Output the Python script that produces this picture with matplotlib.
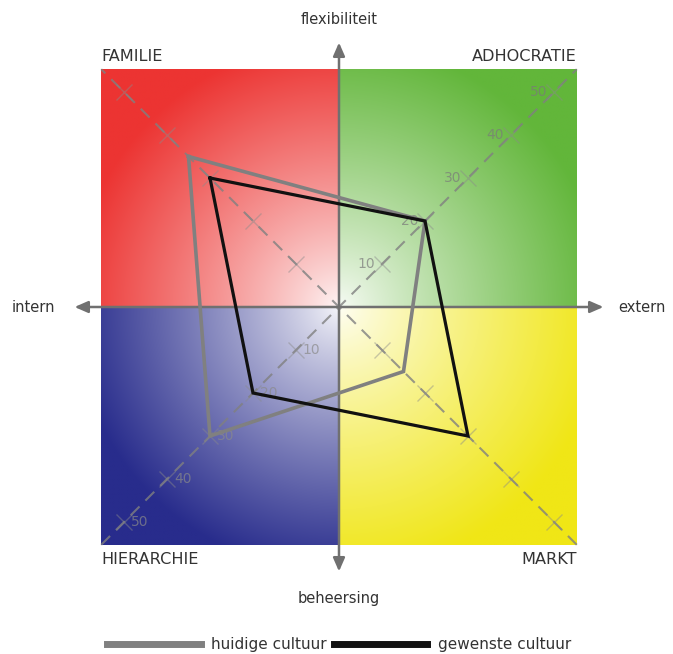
import numpy as np
import matplotlib
matplotlib.use("Agg")
import matplotlib.pyplot as plt

# ---- data ----
categories = ["FAMILIE", "ADHOCRATIE", "MARKT", "HIERARCHIE"]
angles_deg = [135, 45, -45, -135]
huidige = [35, 20, 15, 30]
gewenste = [30, 20, 30, 20]
diag_ticks = [10, 20, 30, 40, 50]
axis_labels = {"top": "flexibiliteit", "bottom": "beheersing", "left": "intern", "right": "extern"}
legend_labels = ["huidige cultuur", "gewenste cultuur"]

# ---- layout ----
W, H = 673, 654
cx, cy = 339, 307          # centre in pixels
ppu = 4.3                  # pixels per unit
half = 55.3                # half size of coloured square (units)
arr = 61.5                 # axis arrow length

fig = plt.figure(figsize=(W / 100, H / 100), dpi=100)
ax = fig.add_axes([0, 0, 1, 1])
ax.set_xlim(-cx / ppu, (W - cx) / ppu)
ax.set_ylim(-(H - cy) / ppu, cy / ppu)
ax.set_aspect("equal")
ax.axis("off")

# ---- gradient quadrants ----
n = 400
xs = np.linspace(-half, half, n)
X, Y = np.meshgrid(xs, xs[::-1])
r = np.sqrt(X ** 2 + Y ** 2)
t = np.clip(r / 62.0, 0, 1) ** 0.85
t = 0.04 + 0.96 * t
red = np.array([236, 52, 50]) / 255
green = np.array([98, 182, 58]) / 255
blue = np.array([40, 44, 140]) / 255
yellow = np.array([240, 230, 22]) / 255
base = np.zeros((n, n, 3))
base[(X < 0) & (Y >= 0)] = red
base[(X >= 0) & (Y >= 0)] = green
base[(X < 0) & (Y < 0)] = blue
base[(X >= 0) & (Y < 0)] = yellow
img = (1 - t[..., None]) * 1.0 + t[..., None] * base
ax.imshow(img, extent=[-half, half, -half, half], zorder=0, interpolation="bilinear")

# ---- diagonal dashed axes ----
for a in [45, 135]:
    c, s = np.cos(np.radians(a)), np.sin(np.radians(a))
    k = half * np.sqrt(2)
    ax.plot([-k * c, k * c], [-k * s, k * s], ls=(0, (6, 4)), color="#808080",
            lw=1.5, alpha=0.8, zorder=2)

# tick crosses along diagonals
for a in angles_deg:
    sx, sy = np.sign(np.cos(np.radians(a))), np.sign(np.sin(np.radians(a)))
    tv = np.array(diag_ticks)
    ax.plot(sx * tv, sy * tv, ls="none", marker="x", ms=11, mew=1.0,
            color="#8a8a8a", alpha=0.45, zorder=2)

# tick labels (NE: left of cross, SW: right of cross)
for v in diag_ticks:
    ax.text(v - 1.6, v, str(v), ha="right", va="center", fontsize=10,
            color="#7a7a7a", alpha=0.7, zorder=2)
    ax.text(-v + 1.6, -v, str(v), ha="left", va="center", fontsize=10,
            color="#8a8a8a", alpha=0.7, zorder=2)

# ---- main axes with arrows ----
ac = "#707070"
for dx, dy in [(1, 0), (-1, 0), (0, 1), (0, -1)]:
    ax.annotate("", xy=(dx * arr, dy * arr), xytext=(0, 0),
                arrowprops=dict(arrowstyle="-|>,head_length=0.8,head_width=0.35",
                                color=ac, lw=1.8, shrinkA=0, shrinkB=0), zorder=3)

# ---- polygons ----
def poly(vals):
    px = [v * np.sign(np.cos(np.radians(a))) for v, a in zip(vals, angles_deg)]
    py = [v * np.sign(np.sin(np.radians(a))) for v, a in zip(vals, angles_deg)]
    return px + [px[0]], py + [py[0]]

hx, hy = poly(huidige)
gx, gy = poly(gewenste)
l1, = ax.plot(hx, hy, color="#808080", lw=2.6, zorder=4, label=legend_labels[0],
              solid_joinstyle="miter")
l2, = ax.plot(gx, gy, color="#111111", lw=2.3, zorder=5, label=legend_labels[1],
              solid_joinstyle="miter")

# ---- quadrant labels ----
qc = "#333333"
qs = 11.6
ax.text(-half, 58.2, categories[0], ha="left", va="center", fontsize=qs, color=qc)
ax.text(half, 58.2, categories[1], ha="right", va="center", fontsize=qs, color=qc)
ax.text(half, -58.8, categories[2], ha="right", va="center", fontsize=qs, color=qc)
ax.text(-half, -58.8, categories[3], ha="left", va="center", fontsize=qs, color=qc)

# ---- axis labels ----
lc = "#333333"
ax.text(0, 66.8, axis_labels["top"], ha="center", va="center", fontsize=10.5, color=lc)
ax.text(0, -67.8, axis_labels["bottom"], ha="center", va="center", fontsize=10.5, color=lc)
ax.text(-66.0, 0, axis_labels["left"], ha="right", va="center", fontsize=10.5, color=lc)
ax.text(65.0, 0, axis_labels["right"], ha="left", va="center", fontsize=10.5, color=lc)

# ---- legend ----
leg = fig.legend(handles=[l1, l2], loc="center", bbox_to_anchor=(0.504, 1 - 645 / H),
                 ncol=2, frameon=False, fontsize=11.0, handlelength=6.1,
                 handletextpad=0.7, columnspacing=0.45, labelcolor="#333333")
for h in leg.legend_handles:
    h.set_linewidth(5)

fig.savefig("out.png", dpi=100, facecolor="white")
